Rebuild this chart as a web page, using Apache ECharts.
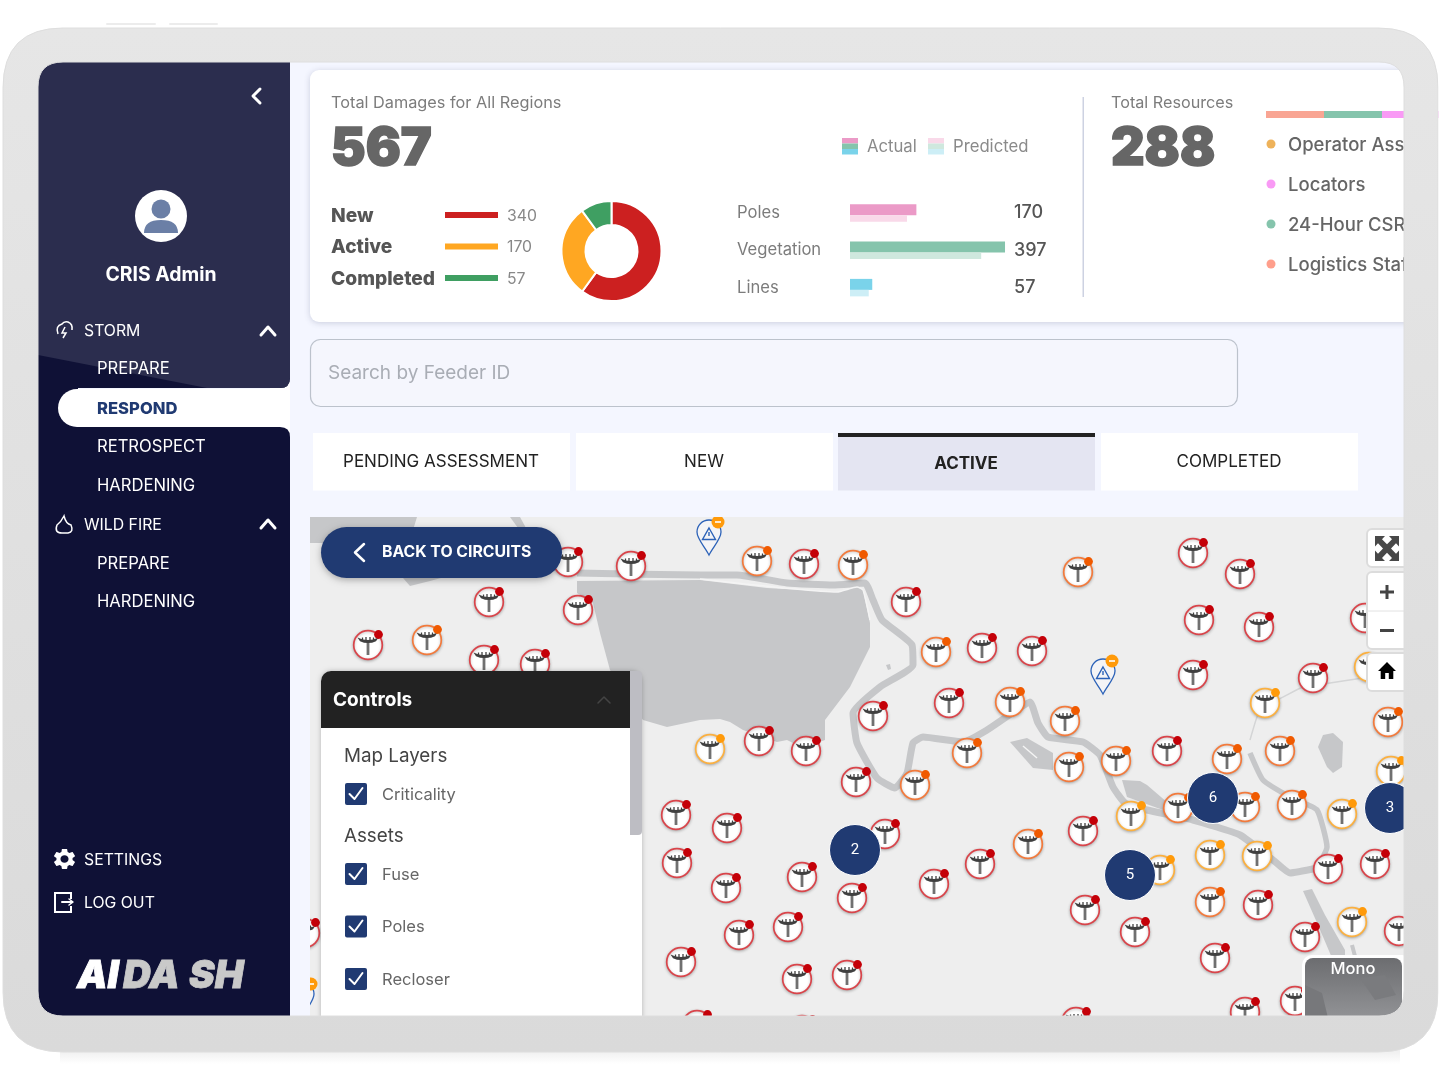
<!DOCTYPE html>
<html>
<head>
<meta charset="utf-8">
<title>CRIS Admin</title>
<script src="https://cdn.jsdelivr.net/npm/echarts@6/dist/echarts.min.js"></script>
<style>html,body{margin:0;padding:0;background:#fff}#main{width:1440px;height:1090px}</style>
</head>
<body>
<div id="main"></div>
<script>
// values
var statusNames = ['New', 'Active', 'Completed'];
var statusValues = [340, 170, 57];
var assetNames = ['Poles', 'Vegetation', 'Lines'];
var assetActual = [170, 397, 57];
var assetPredicted = [146, 336, 48];
var resourceNames = ['Logistics Staff', '24-Hour CSR', 'Locators', 'Operator Assess'];
var resourceShares = [72, 72, 72, 72];
var tabNames = ['PENDING ASSESSMENT', 'NEW', 'ACTIVE', 'COMPLETED'];
var stormMenu = ['PREPARE', 'RESPOND', 'RETROSPECT', 'HARDENING'];
var fireMenu = ['PREPARE', 'HARDENING'];

// map sites, in map units
var redPoles = [[568,562],[631,566],[489,602],[578,610],[368,645],[484,660],[535,664],[804,564],[906,602],[982,648],[1032,651],
  [949,703],[873,716],[759,741],[806,751],[856,782],[1193,553],[1240,574],[1199,620],[1259,627],[1365,618],[1193,675],[1313,678],
  [1167,751],[676,815],[727,828],[677,863],[726,888],[802,877],[885,834],[852,898],[788,927],[739,935],[681,962],[797,979],[847,975],
  [934,884],[980,864],[1083,831],[1328,869],[1375,864],[1085,910],[1135,932],[1258,905],[1305,937],[1399,931],[1215,958],[1245,1012],
  [1295,1001],[1076,1022],[697,1025],[802,1030],[305,933]];
var orangePoles = [[427,640],[757,561],[853,565],[1078,572],[936,652],[1010,702],[1065,721],[967,753],[1069,767],[915,785],[1388,722],
  [1116,761],[1227,759],[1280,751],[1178,808],[1245,807],[1292,805],[1028,844],[1210,902]];
var amberPoles = [[710,749],[1265,703],[1369,667],[1391,771],[1131,816],[1342,814],[1160,870],[1210,855],[1257,856],[1352,922]];
var alertPins = [[709,555],[1103,694],[302,1017]];
var clusters = [[855,850,2],[1130,875,5],[1213,798,6],[1390,808,3]];

var lakeOutline = [[577,581],[700,580],[767,588],[837,592],[857,587],[863,590],[870,623],[870,647],[850,687],[825,720],[825,740],[803,748],
  [787,740],[777,742],[743,730],[730,722],[720,719],[700,720],[667,727],[643,720],[610,670],[600,633],[593,603],[577,593]];
var pondOutline = [[1318,747],[1323,735],[1333,733],[1343,742],[1342,767],[1333,773],[1327,767]];
var cornerLand = [[310,517],[417,517],[413,530],[395,545],[320,543],[310,543]];
var smallLand = [[510,517],[520,517],[526,528],[518,528]];
var bankLand = [[403,578],[441,578],[430,581],[410,586]];
var marshA = [[1010,742],[1027,738],[1053,753],[1053,770],[1033,768]];
var marshB = [[1122,780],[1140,781],[1147,785],[1168,803],[1163,810],[1127,797]];
var southBank = [[1303,891],[1312,889],[1325,915],[1345,950],[1345,958],[1332,958],[1318,925]];
var islet = [[886,665],[890,664],[891,669],[888,670]];
var mapAreas = [lakeOutline, pondOutline, cornerLand, smallLand, bankLand, marshA, marshB, southBank, islet];

var riverMain = [[577,573],[700,575],[737,575],[787,583],[833,585],[865,583],[873,600],[882,620],[912,645],[913,665],[880,687],[853,713],
  [857,743],[877,778],[895,788],[907,773],[913,743],[923,737],[963,742],[987,730],[1012,713],[1030,702],[1038,723],[1048,737],[1083,742],
  [1100,755],[1113,787],[1125,803],[1147,810],[1193,820],[1240,835],[1273,860],[1290,873],[1317,868]];
var riverEast = [[1317,868],[1327,847],[1317,810],[1290,797],[1263,780],[1250,753]];
var streamEast = [[1250,740],[1257,717],[1265,703],[1277,700],[1303,687],[1330,683],[1363,678]];
var streamSouth = [[1352,945],[1356,960]];
var whitePath = [[700,579],[837,592],[857,587],[863,590],[870,620]];
var whitePathB = [[1023,746],[1037,758]];

var sans = 'Inter, "Noto Sans", sans-serif';
var navy = '#203a72';

function T(text, x, y, size, color, weight, align) {
  return {type: 'text', style: {text: text, x: x, y: y + 1, fill: color, font: (weight || 400) + ' ' + size + 'px ' + sans,
    textAlign: align || 'left', textVerticalAlign: 'middle'}};
}
function R(x, y, w, h, fill, r, extra) {
  var st = {fill: fill};
  for (var k in (extra || {})) st[k] = extra[k];
  return {type: 'rect', shape: {x: x, y: y, width: w, height: h, r: r || 0}, style: st};
}
function C(x, y, r, fill) { return {type: 'circle', shape: {cx: x, cy: y, r: r}, style: {fill: fill}}; }
function L(pts, color, w) {
  return {type: 'polyline', shape: {points: pts}, style: {stroke: color, lineWidth: w, fill: null, lineCap: 'round', lineJoin: 'round'}};
}
function P(d, style) { return {type: 'path', shape: {pathData: d}, style: style}; }
function icon(d, x, y, w, h, style) {
  return {type: 'path', shape: {pathData: d, x: x, y: y, width: w, height: h, layout: 'cover'}, style: style};
}
function layer(z, els) {
  return {type: 'custom', coordinateSystem: 'none', silent: true, z: z, data: [0], renderItem: function () {
    return {type: 'group', children: els};
  }};
}
function rr(x, y, w, h, r, ccw) {
  var a = x + w, b = y + h;
  if (!ccw) return 'M' + (x + r) + ' ' + y + 'L' + (a - r) + ' ' + y + 'Q' + a + ' ' + y + ' ' + a + ' ' + (y + r) + 'L' + a + ' ' + (b - r) +
    'Q' + a + ' ' + b + ' ' + (a - r) + ' ' + b + 'L' + (x + r) + ' ' + b + 'Q' + x + ' ' + b + ' ' + x + ' ' + (b - r) + 'L' + x + ' ' + (y + r) +
    'Q' + x + ' ' + y + ' ' + (x + r) + ' ' + y + 'Z';
  return 'M' + (x + r) + ' ' + y + 'Q' + x + ' ' + y + ' ' + x + ' ' + (y + r) + 'L' + x + ' ' + (b - r) + 'Q' + x + ' ' + b + ' ' + (x + r) + ' ' + b +
    'L' + (a - r) + ' ' + b + 'Q' + a + ' ' + b + ' ' + a + ' ' + (b - r) + 'L' + a + ' ' + (y + r) + 'Q' + a + ' ' + y + ' ' + (a - r) + ' ' + y + 'Z';
}
function bigNumber(text, x) {
  return {type: 'text', style: {text: text, x: x, y: 149, fill: '#666666', stroke: '#666666', lineWidth: 1.6,
    font: '900 52px ' + sans, textVerticalAlign: 'middle'}};
}

// screen base: sidebar, cards, tabs
var base = [];
base.push(R(60, 1050, 1340, 14, new echarts.graphic.LinearGradient(0, 0, 0, 1, [{offset: 0, color: '#eeeeee'}, {offset: 1, color: '#ffffff'}])));
base.push(L([[107, 24], [155, 24]], '#ececec', 2), L([[170, 24], [217, 24]], '#ececec', 2));
base.push(R(38, 62, 1366, 954, '#f4f6ff'));
base.push(R(270, 378, 20, 60, '#ffffff'));
base.push(P('M38 62L290 62L290 378Q290 388 280 388L38 388Z', {fill: '#0f1136'}));
base.push(P('M38 355L38 62L290 62L290 378Q290 388 280 388L207 388Z', {fill: '#2b2d4e'}));
base.push(P('M38 427L280 427Q290 427 290 437L290 1016L38 1016Z', {fill: '#0f1136'}));
base.push(R(38, 388, 40, 40, '#0f1136'));
base.push(P('M290 389L77 389A19 19 0 0 0 77 427L290 427Z', {fill: '#ffffff'}));
base.push(L([[260, 89], [253, 96], [260, 103]], '#ffffff', 3));
base.push(C(161, 216, 26, '#ffffff'), C(161, 209, 9.5, '#6b7fa6'));
base.push(P('M144 233Q144 220 161 220Q178 220 178 233Z', {fill: '#6b7fa6'}));
base.push(T('CRIS Admin', 161, 274, 19.4, '#ffffff', 700, 'center'));
base.push(T('STORM', 84, 330, 15.8, '#ffffff', 400));
base.push(T('WILD FIRE', 84, 524, 15.8, '#ffffff', 400));
base.push(L([[261, 335], [268, 327], [275, 335]], '#ffffff', 3), L([[261, 528], [268, 520], [275, 528]], '#ffffff', 3));
var stormY = [368, 407.5, 446, 484.5];
stormMenu.forEach(function (m, i) {
  var on = m === 'RESPOND';
  base.push(T(m, 97, stormY[i], 16.6, on ? navy : '#ffffff', on ? 800 : 400));
});
fireMenu.forEach(function (m, i) { base.push(T(m, 97, 562.5 + i * 38.5, 16.6, '#ffffff', 400)); });
base.push(P('M58 334Q55 326 62 324Q64 321 68 322Q73 324 72 330', {stroke: '#fff', lineWidth: 1.5, fill: null}));
base.push(P('M65 327L62 333L66 333L63 338', {stroke: '#fff', lineWidth: 1.5, fill: null}));
base.push(P('M64 516Q61 522 57 525Q54 533 62 533L68 533Q74 532 71 525Q66 524 64 516Z', {stroke: '#fff', lineWidth: 1.5, fill: null}));
base.push(icon('M19.14 12.94c.04-.3.06-.61.06-.94 0-.32-.02-.64-.07-.94l2.03-1.58c.18-.14.23-.41.12-.61l-1.92-3.32c-.12-.22-.37-.29-.59-.22l-2.39.96c-.5-.38-1.03-.7-1.62-.94l-.36-2.54c-.04-.24-.24-.41-.48-.41h-3.84c-.24 0-.43.17-.47.41l-.36 2.54c-.59.24-1.13.57-1.62.94l-2.39-.96c-.22-.08-.47 0-.59.22L2.74 8.87c-.12.21-.08.47.12.61l2.03 1.58c-.05.3-.09.63-.09.94s.02.64.07.94l-2.03 1.58c-.18.14-.23.41-.12.61l1.92 3.32c.12.22.37.29.59.22l2.39-.96c.5.38 1.03.7 1.62.94l.36 2.54c.05.24.24.41.48.41h3.84c.24 0 .44-.17.47-.41l.36-2.54c.59-.24 1.13-.56 1.62-.94l2.39.96c.22.08.47 0 .59-.22l1.92-3.32c.12-.22.07-.47-.12-.61l-2.01-1.58zM12 15.6c-1.98 0-3.6-1.62-3.6-3.6s1.62-3.6 3.6-3.6 3.6 1.62 3.6 3.6-1.62 3.6-3.6 3.6z', 54, 849, 21, 20, {fill: '#ffffff'}));
base.push(T('SETTINGS', 84, 859, 15.8, '#ffffff', 400), T('LOG OUT', 84, 902, 15.8, '#ffffff', 400));
function logo(text, x, color) {
  return {type: 'text', style: {text: text, x: x, y: 976, fill: color, stroke: color, lineWidth: 0.8, font: 'italic 900 38.5px ' + sans, textVerticalAlign: 'middle'}};
}
base.push(P('M71 899L71 893L55 893L55 912L71 912L71 906', {stroke: '#fff', lineWidth: 2, fill: null}));
base.push(L([[62, 902], [72, 902]], '#ffffff', 2), L([[69, 899], [73, 902], [69, 905]], '#ffffff', 1.5));
base.push(logo('AI', 77, '#ffffff'), logo('DA', 123, '#c9c9c9'), logo('SH', 189, '#c9c9c9'));

base.push(R(310, 70, 1110, 252, '#ffffff', 9, {shadowBlur: 6, shadowColor: 'rgba(70,80,120,0.25)', shadowOffsetY: 1}));
base.push(T('Total Damages for All Regions', 331, 102, 16.3, '#7c7c7c', 400));
base.push(bigNumber('567', 331));
base.push(R(842, 138, 16, 5.5, '#eb9ac7'), R(842, 143.5, 16, 5.5, '#85c4ac'), R(842, 149, 16, 5.5, '#7ad3ea'));
base.push(R(928, 138, 16, 5.5, '#f9d9e9'), R(928, 143.5, 16, 5.5, '#cfe8de'), R(928, 149, 16, 5.5, '#cdeef6'));
base.push(T('Actual', 867, 146, 16.7, '#8a8a8a'), T('Predicted', 953, 146, 16.7, '#8a8a8a'));
var statusColors = ['#cc2020', '#ffa722', '#3f9f62'];
statusNames.forEach(function (n, i) {
  var y = 215 + i * 31.5;
  base.push(T(n, 331, y, 19.2, '#555555', 800));
  base.push(R(445, y - 3, 53, 6, statusColors[i]));
  base.push(T(String(statusValues[i]), 507, y, 15.8, '#888888', 400));
});
base.push(R(1082.5, 97, 1.5, 200, '#cdd2e2'));
base.push(T('Total Resources', 1111, 102, 16.2, '#7c7c7c', 400));
base.push(bigNumber('288', 1111));
var resourceDots = ['#ff9f8c', '#85c4ac', '#f99af5', '#eeb25a'];
var resourceY = [264, 224, 184, 144];
resourceNames.forEach(function (n, i) {
  base.push(C(1271, resourceY[i], 4.5, resourceDots[i]));
  base.push(T(n, 1288, resourceY[i], 18.5, '#666666', 500));
});
base.push(R(310.5, 339.5, 927, 67, '#f5f6fd', 10, {stroke: '#bcc2cc', lineWidth: 1.2}));
base.push(T('Search by Feeder ID', 328, 372, 19, '#a9adb5', 400));
var tabX = [313, 576, 838, 1101];
tabNames.forEach(function (n, i) {
  var on = n === 'ACTIVE';
  base.push(R(tabX[i], 433, 257, 57.5, on ? '#e4e5f2' : '#ffffff'));
  if (on) base.push(R(tabX[i], 433, 257, 4, '#222222'));
  base.push(T(n, tabX[i] + 128, on ? 463 : 461, 17, '#222222', on ? 700 : 400, 'center'));
});
base.push(R(310, 517, 1094, 499, '#eeeeee'));

// panels over the map
var over = [];
over.push(R(321, 527, 241, 51, navy, 25.5, {shadowBlur: 7, shadowColor: 'rgba(0,0,0,0.3)', shadowOffsetY: 2}));
over.push(L([[364, 544], [355, 552.5], [364, 561]], '#ffffff', 2.5));
over.push(T('BACK TO CIRCUITS', 382, 551.5, 15.8, '#ffffff', 700));
over.push(R(321, 671, 321, 360, '#ffffff', [10, 10, 0, 0], {shadowBlur: 5, shadowColor: 'rgba(0,0,0,0.25)'}));
over.push(R(321, 671, 309, 57, '#222222', [10, 0, 0, 0]));
over.push(R(630, 671, 12, 164, '#bdbdc3', [0, 4, 4, 0]));
over.push(T('Controls', 333, 699, 19, '#ffffff', 700));
over.push(L([[598, 703], [604, 697], [610, 703]], '#444444', 1.5));
over.push(T('Map Layers', 344, 755, 18.8, '#444444', 400));
over.push(T('Assets', 344, 835, 18.8, '#444444', 400));
[['Criticality', 794], ['Fuse', 874], ['Poles', 926.5], ['Recloser', 979]].forEach(function (c) {
  over.push(R(345, c[1] - 11, 22, 22, navy, 2));
  over.push(L([[349.5, c[1]], [354.5, c[1] + 5], [362.5, c[1] - 6]], '#ffffff', 2));
  over.push(T(c[0], 382, c[1], 16.5, '#666666', 400));
});
var cardBorder = {stroke: '#dcdcdc', lineWidth: 2};
over.push(R(1367, 529, 50, 38, '#ffffff', 5, cardBorder));
over.push(icon('M0 0L10 0L7 3L12 8L17 3L14 0L24 0L24 10L21 7L16 12L21 17L24 14L24 24L14 24L17 21L12 16L7 21L10 24L0 24L0 14L3 17L8 12L3 7L0 10Z', 1375, 536, 24, 25, {fill: '#484848'}));
over.push(R(1367, 572, 50, 77, '#ffffff', 5, cardBorder));
over.push(L([[1367, 611], [1404, 611]], '#e2e2e2', 1));
over.push(R(1380, 590.5, 14, 3, '#444444'), R(1385.5, 585, 3, 14, '#444444'));
over.push(R(1380, 629, 14, 3, '#444444'));
over.push(R(1367, 653, 50, 38, '#ffffff', 5, cardBorder));
over.push(icon('M10 20v-6h4v6h5v-8h3L12 3 2 12h3v8z', 1378, 662, 18, 17, {fill: '#000000'}));
over.push(R(1302, 955, 110, 70, '#ffffff', 10));
over.push(R(1305, 958, 97, 60, new echarts.graphic.LinearGradient(0, 0, 0, 1, [{offset: 0, color: '#6c6d70'}, {offset: 1, color: '#929396'}]), 8));
over.push({type: 'polygon', shape: {points: [[1305, 985], [1322, 993], [1328, 1018], [1305, 1018]]}, style: {fill: '#77787b'}});
over.push({type: 'polygon', shape: {points: [[1360, 978], [1385, 975], [1396, 995], [1375, 1000]]}, style: {fill: '#7a7b7e'}});
over.push(T('Mono', 1353, 968, 16.5, '#ffffff', 500, 'center'));

// tablet bezel, drawn last so it trims everything at the screen edge
var bezel = [P(rr(3, 28, 1435, 1024, 60, false) + rr(38, 62, 1366, 954, 25, true), {
  fill: new echarts.graphic.LinearGradient(0, 0, 0, 1, [{offset: 0, color: '#e6e6e6'}, {offset: 1, color: '#dadada'}]),
  stroke: '#dedede', lineWidth: 1
}), R(1438.5, 28, 2, 1024, '#ffffff')];

function poleSeries(points, ring, dot, z) {
  return {type: 'custom', coordinateSystem: 'cartesian2d', xAxisIndex: 0, yAxisIndex: 0, clip: true, silent: true, z: z, data: points,
    renderItem: function (params, api) {
      var p = api.coord([api.value(0), api.value(1)]);
      return {type: 'group', x: p[0], y: p[1], children: [
        {type: 'circle', shape: {cx: 0, cy: 0, r: 14.3}, style: {fill: '#ffffff', stroke: ring, lineWidth: 1.7, shadowBlur: 3, shadowColor: 'rgba(0,0,0,0.25)', shadowOffsetY: 1}},
        {type: 'line', shape: {x1: 0, y1: -3, x2: 0, y2: 10}, style: {stroke: '#707070', lineWidth: 2.8}},
        {type: 'path', shape: {pathData: 'M-10.5 -7.5Q0 -2.5 10.5 -7.5L8 -3.8Q0 0 -8 -3.8Z'}, style: {fill: '#404040'}},
        {type: 'line', shape: {x1: -5.5, y1: -7.5, x2: -5.5, y2: -4}, style: {stroke: '#404040', lineWidth: 1.3}},
        {type: 'line', shape: {x1: -2, y1: -8, x2: -2, y2: -3}, style: {stroke: '#404040', lineWidth: 1.3}},
        {type: 'line', shape: {x1: 2, y1: -8, x2: 2, y2: -3}, style: {stroke: '#404040', lineWidth: 1.3}},
        {type: 'line', shape: {x1: 5.5, y1: -7.5, x2: 5.5, y2: -4}, style: {stroke: '#404040', lineWidth: 1.3}},
        {type: 'circle', shape: {cx: 10.5, cy: -10.5, r: 4.4}, style: {fill: dot}}
      ]};
    }};
}
function roadSeries(points, color, width) {
  return {type: 'line', xAxisIndex: 0, yAxisIndex: 0, data: points, showSymbol: false, silent: true, smooth: 0.15, z: 3,
    lineStyle: {color: color, width: width}, clip: true};
}

var assetColors = ['#eb9ac7', '#85c4ac', '#7ad3ea'];
var assetPale = ['#f9d9e9', '#cfe8de', '#cdeef6'];

var series = [
  layer(1, base),
  {type: 'custom', coordinateSystem: 'cartesian2d', xAxisIndex: 0, yAxisIndex: 0, clip: true, silent: true, z: 2,
    data: mapAreas.map(function (a, i) { return [i]; }),
    renderItem: function (params, api) {
      return {type: 'polygon', shape: {points: mapAreas[params.dataIndex].map(function (p) { return api.coord(p); })},
        style: {fill: '#c6c7c9'}};
    }},
  roadSeries(riverMain, '#c6c7c9', 7),
  roadSeries(riverEast, '#c6c7c9', 5.5),
  roadSeries(streamEast, '#d4d5d6', 1.5),
  roadSeries(streamSouth, '#c6c7c9', 4),
  roadSeries(whitePath, '#f4f4f4', 1.5),
  roadSeries(whitePathB, '#f4f4f4', 1.5),
  poleSeries(redPoles, '#d9444a', '#c40008', 4),
  poleSeries(orangePoles, '#f27a3c', '#f05a00', 4),
  poleSeries(amberPoles, '#fbb040', '#ff9a0a', 4),
  {type: 'custom', coordinateSystem: 'cartesian2d', xAxisIndex: 0, yAxisIndex: 0, clip: true, silent: true, z: 5, data: alertPins,
    renderItem: function (params, api) {
      var p = api.coord([api.value(0), api.value(1)]);
      var blue = '#2c62b8';
      return {type: 'group', x: p[0], y: p[1], children: [
        {type: 'path', shape: {pathData: 'M0 0C-4 -8 -12 -16 -12 -23A12 12 0 1 1 12 -23C12 -16 4 -8 0 0Z'}, style: {fill: '#f4f4f6', stroke: blue, lineWidth: 1.3}},
        {type: 'polygon', shape: {points: [[0, -27], [6.5, -15.5], [-6.5, -15.5]]}, style: {fill: null, stroke: blue, lineWidth: 1.4}},
        {type: 'line', shape: {x1: 0, y1: -23, x2: 0, y2: -19}, style: {stroke: blue, lineWidth: 1.4}},
        {type: 'circle', shape: {cx: 9, cy: -33, r: 6.5}, style: {fill: '#ff9a0a'}},
        {type: 'line', shape: {x1: 6, y1: -33, x2: 12, y2: -33}, style: {stroke: '#ffffff', lineWidth: 1.6}}
      ]};
    }},
  {type: 'scatter', xAxisIndex: 0, yAxisIndex: 0, data: clusters, symbolSize: 51, silent: true, z: 6,
    itemStyle: {color: navy, borderColor: '#ffffff', borderWidth: 1, opacity: 1},
    label: {show: true, position: 'inside', color: '#ffffff', fontFamily: 'Roboto', fontSize: 15, padding: [2, 0, 0, 0],
      formatter: function (p) { return String(p.value[2]); }}},
  layer(10, over),
  {type: 'pie', center: [611.5, 251], radius: [26, 50], startAngle: 90, silent: true, z: 3,
    label: {show: false}, labelLine: {show: false},
    itemStyle: {borderColor: '#ffffff', borderWidth: 2},
    data: statusNames.map(function (n, i) { return {name: n, value: statusValues[i], itemStyle: {color: statusColors[i]}}; })},
  {type: 'bar', xAxisIndex: 1, yAxisIndex: 1, data: assetActual, barWidth: 11, barGap: 0, silent: true, z: 3,
    itemStyle: {color: function (p) { return assetColors[p.dataIndex]; }}},
  {type: 'bar', xAxisIndex: 1, yAxisIndex: 1, data: assetPredicted, barWidth: 6.5, barGap: 0, silent: true, z: 3,
    itemStyle: {color: function (p) { return assetPale[p.dataIndex]; }}}
];
resourceShares.forEach(function (v, i) {
  series.push({type: 'bar', xAxisIndex: 2, yAxisIndex: 3, stack: 'res', data: [v], barWidth: 7, silent: true, z: 3,
    itemStyle: {color: ['#f9a593', '#85c4ac', '#f99af5', '#eeb25a'][i]}});
});
series.push(layer(20, bezel));

var hidden = {show: false};
var chart = echarts.init(document.getElementById('main'), null, {width: 1440, height: 1090});
chart.setOption({
  animation: false,
  backgroundColor: '#ffffff',
  grid: [
    {left: 310, top: 517, width: 1094, height: 499},
    {left: 850, top: 194.3, width: 164, height: 112},
    {left: 1266, top: 111, width: 174, height: 7}
  ],
  xAxis: [
    {type: 'value', gridIndex: 0, min: 310, max: 1404, show: false},
    {type: 'value', gridIndex: 1, min: 0, max: 420, show: false},
    {type: 'value', gridIndex: 2, min: 0, max: 216, show: false}
  ],
  yAxis: [
    {type: 'value', gridIndex: 0, min: 517, max: 1016, inverse: true, show: false},
    {type: 'category', gridIndex: 1, z: 5, data: assetNames, inverse: true, axisLine: hidden, axisTick: hidden,
      axisLabel: {color: '#7c7c7c', fontFamily: 'Inter', fontSize: 16.6, align: 'left', margin: 113, padding: [2, 0, 0, 0]}},
    {type: 'category', gridIndex: 1, z: 5, position: 'right', data: assetActual.map(String), inverse: true, axisLine: hidden, axisTick: hidden,
      axisLabel: {color: '#555555', fontFamily: 'Inter', fontSize: 18, fontWeight: 500, align: 'left', margin: 0, padding: [4, 0, 0, 0]}},
    {type: 'category', gridIndex: 2, data: ['Resources'], show: false}
  ],
  series: series
});
</script>
</body>
</html>
